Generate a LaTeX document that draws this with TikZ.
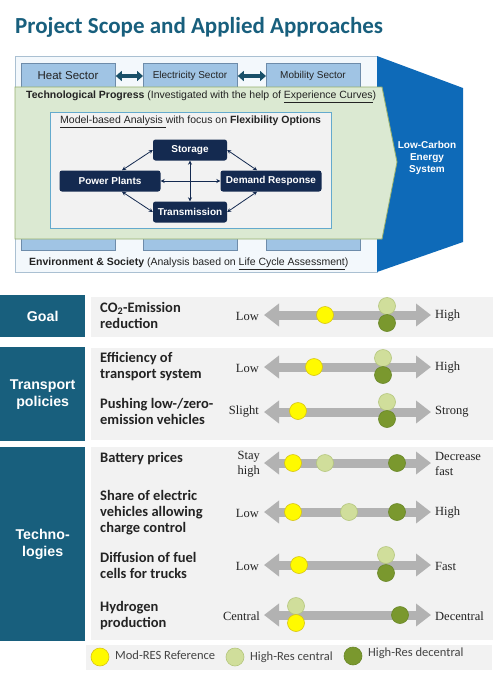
\documentclass[tikz,border=0pt]{standalone}
\usepackage{fontspec}
\setmainfont{Liberation Serif}
\setsansfont{Liberation Sans}
\newfontfamily\carl{Carlito}
\usetikzlibrary{arrows.meta,calc}
\definecolor{teal}{RGB}{24,95,125}
\definecolor{lcblue}{RGB}{14,106,184}
\definecolor{outerfill}{RGB}{243,248,252}
\definecolor{outerdraw}{RGB}{170,192,210}
\definecolor{secfill}{RGB}{160,196,228}
\definecolor{secdraw}{RGB}{110,140,170}
\definecolor{greenfill}{RGB}{219,233,210}
\definecolor{greendraw}{RGB}{150,175,110}
\definecolor{innerdraw}{RGB}{100,170,205}
\definecolor{navy}{RGB}{20,42,80}
\definecolor{arrteal}{RGB}{25,80,105}
\definecolor{rowgray}{RGB}{242,242,242}
\definecolor{bargray}{RGB}{178,178,178}
\definecolor{yel}{RGB}{255,250,0}
\definecolor{yelb}{RGB}{215,195,20}
\definecolor{lgr}{RGB}{208,222,155}
\definecolor{lgrb}{RGB}{180,198,125}
\definecolor{dgr}{RGB}{122,152,46}
\definecolor{dgrb}{RGB}{105,135,40}
\definecolor{txt}{RGB}{35,35,35}
\tikzset{
  sector/.style={draw=secdraw, fill=secfill, line width=0.8pt, anchor=north west, minimum width=94pt, minimum height=187pt, inner sep=0pt},
  navybox/.style={fill=navy, rounded corners=2.5pt, text=white, font=\sffamily\bfseries\fontsize{10}{12}\selectfont, minimum height=21pt, inner sep=0pt},
  flex/.style={draw=navy, line width=0.8pt, {Stealth[length=4pt,width=4pt]}-{Stealth[length=4pt,width=4pt]}},
  secarrow/.style={draw=arrteal, line width=4pt, {Triangle[length=6pt,width=10pt]}-{Triangle[length=6pt,width=10pt]}},
  bar/.style={draw=bargray, line width=9pt, {Triangle[length=15pt,width=22pt]}-{Triangle[length=15pt,width=22pt]}},
  dy/.style={circle, fill=yel, draw=yelb, line width=0.6pt, minimum size=17pt, inner sep=0pt},
  dl/.style={circle, fill=lgr, draw=lgrb, line width=0.6pt, minimum size=17pt, inner sep=0pt},
  dd/.style={circle, fill=dgr, draw=dgrb, line width=0.6pt, minimum size=17pt, inner sep=0pt},
  rowlab/.style={font=\carl\bfseries\fontsize{14.5}{15.8}\selectfont, text=txt, align=left, anchor=west, inner sep=0pt},
  cat/.style={fill=teal, text=white, font=\sffamily\bfseries\fontsize{14.2}{17}\selectfont, align=center, anchor=north west, inner sep=0pt},
  row/.style={fill=rowgray, anchor=north west, inner sep=0pt},
  lscale/.style={font=\fontsize{12.5}{14.5}\selectfont, text=txt, anchor=east, align=left, inner sep=0pt},
  rscale/.style={font=\fontsize{12.5}{14.5}\selectfont, text=txt, anchor=west, align=left, inner sep=0pt},
  legtxt/.style={font=\carl\fontsize{12.5}{14}\selectfont, text=txt!85, anchor=west, inner sep=0pt},
  sftxt/.style={anchor=west, inner sep=0pt, font=\sffamily\fontsize{10.5}{12}\selectfont, text=txt}
}
\begin{document}
\begin{tikzpicture}[x=1pt,y=-1pt]
\useasboundingbox (0,0) rectangle (500,673);
% title
\node[anchor=base west, inner sep=0pt, text=teal, font=\carl\bfseries\fontsize{23}{26}\selectfont] (title) at (15,33) {Project Scope and Applied Approaches};
% outer frame and target
\draw[fill=outerfill, draw=outerdraw, line width=0.8pt] (15,56) rectangle (377,272);
\fill[lcblue] (377,56) -- (463,88) -- (463,242) -- (377,272) -- cycle;
% sectors
\node[sector] (heatbox) at (21,63) {};
\node[sector] (elecbox) at (143,63) {};
\node[sector] (mobbox) at (266,63) {};
\node[font=\sffamily\fontsize{11.5}{13}\selectfont, text=txt] (heat) at (68,76) {Heat Sector};
\node[font=\sffamily\fontsize{10}{12}\selectfont, text=txt] (elec) at (190,76) {Electricity Sector};
\node[font=\sffamily\fontsize{10}{12}\selectfont, text=txt] (mob) at (313,76) {Mobility Sector};
\draw[secarrow] (heatbox.east |- heat) -- (elecbox.west |- elec);
\draw[secarrow] (elecbox.east |- elec) -- (mobbox.west |- mob);
% green arrow box
\draw[fill=greenfill, draw=greendraw, line width=0.8pt] (15,87) -- (382,87) -- (397,162) -- (382,239) -- (15,239) -- cycle;
\node[sftxt] (tech) at (26,97) {\textbf{Technological Progress} (Investigated with the help of \underline{Experience Curves})};
% inner box
\draw[fill=rowgray, draw=innerdraw, line width=0.8pt] (50,112) rectangle (331,228);
\node[sftxt] (model) at (60,122) {\underline{Model-based Analysis }with focus on \textbf{Flexibility Options}};
% flexibility nodes
\node[navybox, minimum width=74pt] (stor) at (190,150) {Storage};
\node[navybox, minimum width=101pt] (pp) at (110,181) {Power Plants};
\node[navybox, minimum width=101pt] (dr) at (271,181) {Demand Response};
\node[navybox, minimum width=74pt] (trans) at (190,212) {Transmission};
\draw[flex] (stor.west) -- ($(pp.north)+(12,0)$);
\draw[flex] (trans.west) -- ($(pp.south)+(12,0)$);
\draw[flex] (stor.east) -- ($(dr.north)+(-14,0)$);
\draw[flex] (trans.east) -- ($(dr.south)+(-14,0)$);
\draw[flex] (pp.east) -- (dr.west);
\draw[flex] (stor.south) -- (trans.north);
% env text
\node[sftxt] (env) at (29,264) {\textbf{Environment \& Society} (Analysis based on \underline{Life Cycle Assessment})};
% target text
\node[align=center, text=white, font=\sffamily\bfseries\fontsize{10}{12}\selectfont] (lc) at (427,158) {Low-Carbon\\Energy\\System};

% lower part: categories
\node[cat, minimum width=85pt, minimum height=42pt] (goal) at (0,295) {Goal};
\node[cat, minimum width=85pt, minimum height=94pt] (tp) at (0,347) {Transport\\policies};
\node[cat, minimum width=85pt, minimum height=194pt] (tec) at (0,447) {Techno-\\logies};
\node[row, minimum width=402pt, minimum height=40pt] (rgoal) at (91,297) {};
\node[row, minimum width=402pt, minimum height=92pt] (rtp) at (91,348) {};
\node[row, minimum width=402pt, minimum height=193pt] (rtec) at (91,447) {};
\node[row, minimum width=406pt, minimum height=25pt] (rleg) at (86,645) {};

% row labels
\node[rowlab] (l1) at (100,315.5) {CO\textsubscript{2}-Emission\\reduction};
\node[rowlab] (l2) at (100,366.5) {Efficiency of\\transport system};
\node[rowlab] (l3) at (100,411.5) {Pushing low-/zero-\\emission vehicles};
\node[rowlab] (l4) at (100,459) {Battery prices};
\node[rowlab] (l5) at (100,512.5) {Share of electric\\vehicles allowing\\charge control};
\node[rowlab] (l6) at (100,565.5) {Diffusion of fuel\\cells for trucks};
\node[rowlab] (l7) at (100,615.5) {Hydrogen\\production};

% scale bars
\foreach \n/\y in {1/315,2/367,3/412,4/463,5/512,6/565,7/615}{
  \coordinate (b\n l) at (264,\y);
  \coordinate (b\n r) at (431,\y);
  \draw[bar] (b\n l) -- (b\n r);
}
% scale labels
\node[lscale] (s1l) at (259,316) {Low};
\node[rscale] (s1r) at (435,316) {High};
\node[lscale] (s2l) at (259,368) {Low};
\node[rscale] (s2r) at (435,368) {High};
\node[lscale] (s3l) at (259,412) {Slight};
\node[rscale] (s3r) at (435,412) {Strong};
\node[lscale] (s4l) at (260,464) {Stay\\high};
\node[rscale] (s4r) at (435,464) {Decrease\\fast};
\node[lscale] (s5l) at (259,513) {Low};
\node[rscale] (s5r) at (435,513) {High};
\node[lscale] (s6l) at (259,566) {Low};
\node[rscale] (s6r) at (435,566) {Fast};
\node[lscale] (s7l) at (260,616) {Central};
\node[rscale] (s7r) at (435,616) {Decentral};

% dots
\node[dy] (c1y) at (325,315) {};
\node[dl] (c1l) at (387,306) {};
\node[dd] (c1d) at (387,323) {};
\node[dy] (c2y) at (314,367) {};
\node[dl] (c2l) at (383,358) {};
\node[dd] (c2d) at (383,375) {};
\node[dy] (c3y) at (298,411) {};
\node[dl] (c3l) at (387,402) {};
\node[dd] (c3d) at (387,419) {};
\node[dy] (c4y) at (293,463) {};
\node[dl] (c4l) at (325,463) {};
\node[dd] (c4d) at (397,463) {};
\node[dy] (c5y) at (293,512) {};
\node[dl] (c5l) at (349,512) {};
\node[dd] (c5d) at (397,512) {};
\node[dy] (c6y) at (299,565) {};
\node[dl] (c6l) at (386,555) {};
\node[dd] (c6d) at (386,573) {};
\node[dl] (c7l) at (296,606) {};
\node[dy] (c7y) at (296,623) {};
\node[dd] (c7d) at (400,615) {};

% legend
\node[dy, minimum size=18pt] (ly) at (100,657) {};
\node[legtxt] (lyt) at (115,655) {Mod-RES Reference};
\node[dl, minimum size=18pt] (ll) at (235,657) {};
\node[legtxt] (llt) at (250,657) {High-Res central};
\node[dd, minimum size=18pt] (ld) at (353,656) {};
\node[legtxt] (ldt) at (368,653) {High-Res decentral};
\end{tikzpicture}
\end{document}
